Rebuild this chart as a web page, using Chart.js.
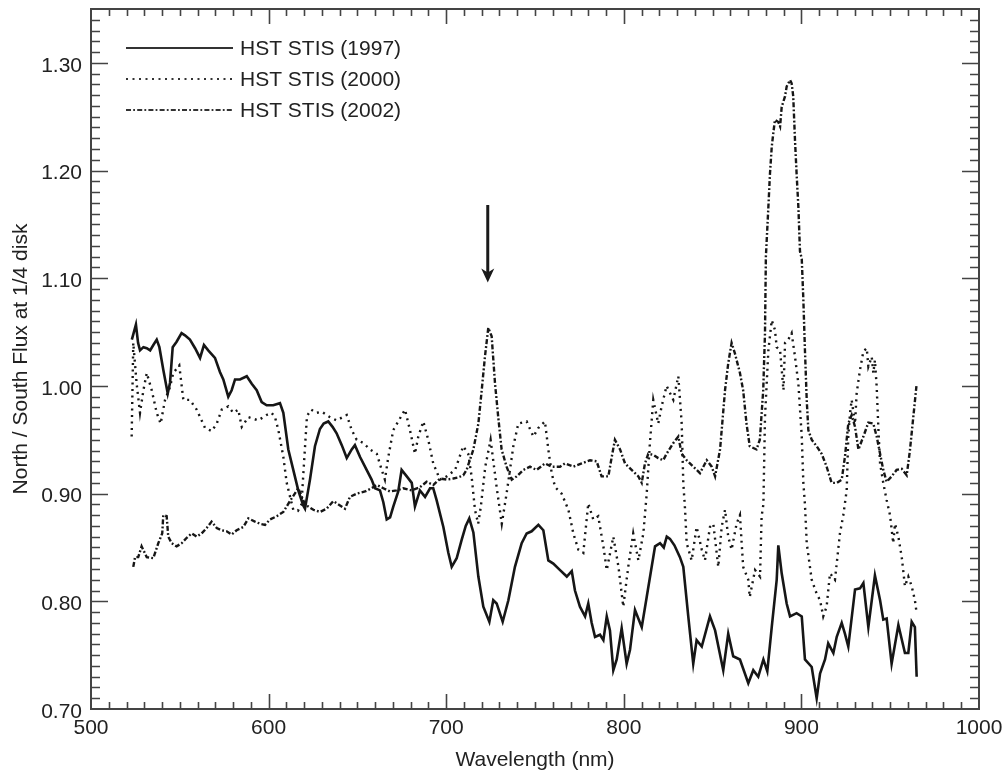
<!DOCTYPE html>
<html>
<head>
<meta charset="utf-8">
<title>North/South flux ratio</title>
<script src="https://cdn.jsdelivr.net/npm/chart.js@4.4.1/dist/chart.umd.min.js"></script>
<style>
  body { margin: 0; background: #fff; }
  #wrap { width: 1003px; height: 772px; }
</style>
</head>
<body>
<div id="wrap"><canvas id="flux" width="1003" height="772"></canvas></div>
<script>
// wavelength (nm) / north-south flux ratio at 1/4 disk, one pair of arrays per epoch
var wl1997 = [523.0, 525.3, 526.5, 527.6, 529.5, 531.4, 533.3, 535.1, 537.0, 538.5, 540.7, 543.2, 544.5, 546.0, 548.2, 551.0, 552.9, 555.7, 558.6, 561.4,
  563.6, 566.0, 569.8, 572.6, 574.5, 577.3, 579.2, 581.1, 583.9, 587.7, 590.5, 593.3, 596.1, 598.9, 602.6, 606.4, 608.3, 611.1, 613.9, 616.7,
  619.5, 620.5, 623.3, 626.1, 628.9, 631.0, 633.6, 636.0, 638.3, 641.2, 644.0, 646.8, 648.6, 651.5, 655.2, 658.0, 659.9, 662.7, 664.6, 666.5,
  668.4, 670.2, 673.0, 674.9, 677.8, 680.6, 682.4, 685.2, 688.1, 690.9, 692.7, 694.6, 698.4, 701.2, 703.1, 705.9, 708.7, 711.0, 713.0, 715.3,
  718.1, 720.9, 724.3, 726.5, 728.4, 731.8, 735.0, 738.7, 742.5, 745.3, 748.1, 751.9, 754.7, 757.5, 760.3, 764.1, 767.9, 770.7, 772.5, 775.3,
  778.2, 780.0, 781.9, 783.8, 786.6, 788.5, 790.4, 792.2, 794.1, 796.0, 798.8, 801.6, 803.5, 806.3, 810.1, 812.9, 817.6, 820.4, 822.5, 824.2,
  826.0, 828.5, 831.6, 833.5, 836.3, 839.1, 841.0, 843.9, 848.5, 851.4, 856.0, 858.8, 861.6, 865.4, 870.1, 872.9, 875.7, 878.6, 880.8, 883.3,
  886.1, 887.0, 888.9, 891.7, 893.6, 897.3, 900.2, 902.0, 905.8, 908.6, 910.5, 913.3, 915.1, 918.0, 919.9, 922.7, 924.5, 926.4, 930.2, 933.0,
  934.9, 937.7, 941.4, 944.3, 946.1, 948.0, 950.8, 954.6, 958.3, 960.2, 962.1, 963.9, 964.9];
var flux1997 = [1.043, 1.057, 1.040, 1.033, 1.036, 1.035, 1.033, 1.038, 1.043, 1.036, 1.015, 0.993, 1.003, 1.036, 1.041, 1.049, 1.047, 1.043, 1.035, 1.026,
  1.038, 1.033, 1.026, 1.013, 1.006, 0.990, 0.996, 1.006, 1.006, 1.009, 1.002, 0.996, 0.985, 0.982, 0.982, 0.984, 0.975, 0.941, 0.922, 0.903,
  0.889, 0.886, 0.913, 0.944, 0.960, 0.965, 0.967, 0.962, 0.956, 0.945, 0.933, 0.941, 0.945, 0.934, 0.922, 0.913, 0.905, 0.903, 0.892, 0.876,
  0.878, 0.888, 0.902, 0.922, 0.916, 0.910, 0.888, 0.903, 0.897, 0.905, 0.905, 0.894, 0.869, 0.845, 0.832, 0.840, 0.857, 0.870, 0.877, 0.864,
  0.823, 0.795, 0.781, 0.801, 0.798, 0.781, 0.801, 0.832, 0.854, 0.863, 0.865, 0.871, 0.866, 0.838, 0.835, 0.829, 0.823, 0.828, 0.810, 0.795,
  0.786, 0.798, 0.780, 0.767, 0.769, 0.764, 0.786, 0.773, 0.736, 0.746, 0.775, 0.742, 0.755, 0.792, 0.776, 0.804, 0.851, 0.854, 0.850, 0.860,
  0.858, 0.852, 0.841, 0.832, 0.786, 0.742, 0.764, 0.758, 0.786, 0.773, 0.736, 0.770, 0.749, 0.746, 0.724, 0.736, 0.730, 0.746, 0.735, 0.776,
  0.820, 0.852, 0.826, 0.798, 0.786, 0.789, 0.786, 0.746, 0.739, 0.710, 0.733, 0.746, 0.761, 0.752, 0.767, 0.780, 0.770, 0.758, 0.811, 0.812,
  0.817, 0.776, 0.824, 0.801, 0.783, 0.784, 0.742, 0.778, 0.752, 0.752, 0.781, 0.776, 0.730];

var wl2000 = [522.9, 523.8, 525.7, 527.6, 529.5, 531.4, 534.2, 537.0, 539.2, 541.7, 544.5, 546.3, 549.7, 552.0, 555.7, 559.5, 564.2, 568.0, 570.8, 573.6,
  577.3, 580.1, 582.9, 584.9, 588.6, 594.2, 598.9, 601.7, 603.6, 605.5, 608.3, 610.2, 612.1, 613.9, 616.5, 618.5, 620.0, 621.6, 624.0, 627.0,
  630.0, 634.6, 638.3, 644.0, 646.8, 649.6, 653.3, 657.1, 660.9, 663.7, 665.5, 667.4, 670.2, 673.0, 676.8, 679.6, 682.4, 684.3, 687.1, 689.9,
  692.7, 696.5, 700.3, 705.0, 709.6, 712.4, 714.3, 716.2, 718.0, 719.5, 722.0, 725.0, 728.4, 731.3, 734.0, 737.8, 740.6, 745.3, 749.1, 751.9,
  755.6, 757.5, 759.4, 761.3, 765.0, 768.8, 771.6, 774.4, 777.2, 780.0, 782.8, 785.6, 788.5, 790.4, 794.1, 797.0, 799.7, 802.5, 805.3, 808.2,
  811.0, 812.9, 814.7, 816.6, 819.4, 821.3, 824.1, 827.9, 830.7, 832.6, 833.5, 834.5, 835.4, 838.2, 841.0, 843.9, 845.7, 848.5, 850.4, 853.2,
  855.1, 857.0, 858.8, 860.7, 863.5, 865.4, 867.2, 870.1, 870.9, 873.9, 876.7, 877.6, 878.6, 879.5, 881.4, 883.3, 885.1, 886.1, 888.0, 889.9,
  890.8, 892.6, 894.5, 896.4, 898.3, 900.2, 901.1, 902.0, 903.0, 905.8, 908.6, 910.5, 912.3, 914.2, 916.1, 918.9, 921.7, 923.6, 925.5, 926.4,
  927.4, 928.3, 930.2, 931.1, 933.0, 934.9, 936.8, 937.7, 939.6, 940.5, 941.4, 942.4, 943.3, 944.3, 946.1, 948.0, 949.9, 951.7, 952.7, 954.6,
  956.5, 958.3, 960.2, 962.1, 963.9, 964.9];
var flux2000 = [0.953, 1.040, 1.002, 0.975, 0.996, 1.012, 0.996, 0.975, 0.965, 0.987, 0.999, 1.012, 1.019, 0.987, 0.987, 0.978, 0.961, 0.958, 0.965, 0.978,
  0.981, 0.975, 0.978, 0.962, 0.971, 0.968, 0.973, 0.975, 0.971, 0.959, 0.934, 0.910, 0.897, 0.885, 0.884, 0.890, 0.930, 0.972, 0.978, 0.975,
  0.976, 0.971, 0.968, 0.973, 0.959, 0.950, 0.947, 0.941, 0.937, 0.922, 0.913, 0.934, 0.959, 0.967, 0.978, 0.959, 0.937, 0.953, 0.967, 0.950,
  0.928, 0.913, 0.916, 0.922, 0.944, 0.937, 0.916, 0.885, 0.872, 0.888, 0.925, 0.950, 0.906, 0.872, 0.900, 0.944, 0.965, 0.967, 0.953, 0.961,
  0.967, 0.941, 0.919, 0.906, 0.900, 0.885, 0.863, 0.848, 0.845, 0.891, 0.876, 0.879, 0.851, 0.829, 0.860, 0.832, 0.795, 0.832, 0.863, 0.838,
  0.863, 0.900, 0.947, 0.987, 0.965, 0.981, 1.000, 0.987, 1.009, 0.965, 0.910, 0.885, 0.854, 0.838, 0.869, 0.848, 0.838, 0.869, 0.872, 0.832,
  0.869, 0.885, 0.860, 0.848, 0.872, 0.880, 0.832, 0.820, 0.804, 0.829, 0.823, 0.879, 0.890, 0.971, 1.033, 1.061, 1.052, 1.036, 1.033, 0.996,
  1.040, 1.043, 1.049, 1.027, 1.002, 0.953, 0.910, 0.890, 0.854, 0.820, 0.807, 0.801, 0.786, 0.795, 0.826, 0.820, 0.863, 0.880, 0.903, 0.953,
  0.975, 0.987, 0.965, 0.993, 1.015, 1.032, 1.035, 1.018, 1.027, 1.012, 1.024, 0.999, 0.962, 0.928, 0.910, 0.894, 0.880, 0.854, 0.872, 0.860,
  0.841, 0.814, 0.823, 0.814, 0.801, 0.789];

var wl2002 = [523.8, 524.8, 526.6, 528.5, 531.4, 535.1, 537.9, 540.1, 540.7, 542.6, 543.5, 545.4, 548.2, 551.1, 553.9, 556.7, 559.5, 562.3, 565.1, 567.9,
  570.8, 573.6, 576.4, 579.2, 582.0, 585.8, 588.6, 592.3, 595.2, 598.0, 600.8, 604.6, 608.3, 612.0, 616.7, 620.5, 625.2, 628.9, 632.7, 636.4,
  640.2, 643.0, 645.8, 649.6, 654.3, 658.0, 660.9, 664.6, 668.4, 672.1, 675.8, 680.6, 685.2, 689.0, 692.7, 696.5, 700.3, 704.0, 706.8, 709.6,
  711.5, 715.3, 718.1, 720.0, 721.8, 723.7, 725.6, 727.5, 729.3, 731.2, 734.0, 736.9, 739.7, 743.4, 747.2, 750.9, 755.6, 759.4, 764.1, 766.9,
  771.6, 776.3, 781.0, 784.7, 787.5, 791.3, 793.2, 795.0, 797.9, 800.7, 804.4, 808.2, 810.1, 811.9, 813.8, 816.6, 819.4, 822.2, 824.1, 827.9,
  830.7, 832.6, 835.4, 839.1, 842.9, 846.7, 849.5, 851.4, 854.2, 857.0, 858.8, 860.7, 862.6, 865.4, 867.2, 869.1, 870.9, 874.7, 876.6, 878.5,
  879.5, 880.0, 881.4, 882.3, 883.3, 884.2, 885.1, 887.0, 888.0, 888.9, 890.8, 891.7, 893.6, 894.5, 895.4, 896.4, 897.3, 898.3, 899.2, 900.2,
  901.1, 902.0, 903.0, 903.9, 905.8, 908.6, 911.4, 914.2, 917.0, 919.9, 922.7, 924.5, 926.4, 928.3, 930.2, 932.1, 934.9, 937.7, 940.5, 942.4,
  944.3, 946.1, 948.0, 950.8, 953.6, 956.5, 959.3, 961.1, 963.0, 964.9];
var flux2002 = [0.832, 0.841, 0.841, 0.851, 0.841, 0.840, 0.854, 0.863, 0.880, 0.879, 0.860, 0.854, 0.851, 0.854, 0.859, 0.863, 0.860, 0.863, 0.868, 0.874,
  0.868, 0.866, 0.865, 0.862, 0.866, 0.869, 0.877, 0.874, 0.872, 0.871, 0.876, 0.879, 0.883, 0.893, 0.905, 0.890, 0.885, 0.883, 0.886, 0.893,
  0.889, 0.886, 0.897, 0.900, 0.902, 0.905, 0.908, 0.905, 0.902, 0.903, 0.905, 0.903, 0.906, 0.911, 0.908, 0.914, 0.913, 0.914, 0.915, 0.917,
  0.922, 0.941, 0.965, 0.996, 1.027, 1.054, 1.046, 1.002, 0.971, 0.941, 0.925, 0.913, 0.916, 0.922, 0.925, 0.922, 0.928, 0.925, 0.925, 0.928,
  0.925, 0.928, 0.931, 0.930, 0.916, 0.916, 0.934, 0.950, 0.941, 0.928, 0.922, 0.916, 0.910, 0.928, 0.937, 0.936, 0.933, 0.931, 0.937, 0.947,
  0.953, 0.937, 0.931, 0.925, 0.919, 0.931, 0.925, 0.916, 0.941, 0.996, 1.021, 1.040, 1.030, 1.012, 0.996, 0.965, 0.944, 0.941, 0.950, 0.996,
  1.049, 1.120, 1.166, 1.197, 1.222, 1.235, 1.247, 1.245, 1.241, 1.259, 1.269, 1.278, 1.284, 1.281, 1.269, 1.228, 1.197, 1.166, 1.125, 1.118,
  1.080, 1.033, 0.987, 0.959, 0.950, 0.944, 0.937, 0.925, 0.910, 0.910, 0.913, 0.934, 0.965, 0.973, 0.962, 0.941, 0.953, 0.966, 0.965, 0.953,
  0.937, 0.922, 0.911, 0.916, 0.922, 0.923, 0.917, 0.940, 0.971, 1.002];

var seriesNames = ['HST STIS (1997)', 'HST STIS (2000)', 'HST STIS (2002)'];

// axis ticks
var xTicks = [500, 600, 700, 800, 900, 1000];
var yTicks = [0.70, 0.80, 0.90, 1.00, 1.10, 1.20, 1.30];
var xRange = [500, 1000];
var yRange = [0.70, 1.35];

// arrow marking the 2002 feature: wavelength, tail value, tip value
var arrowMark = [723.4, 1.168, 1.096];

var fontFam = '"Liberation Sans", Arial, Helvetica, sans-serif';
var ink = '#222';

function pts(xs, ys) {
  return xs.map(function (x, i) { return { x: x, y: ys[i] }; });
}

// frame with inward ticks on all four sides, the arrow and the legend
var framePlugin = {
  id: 'frame',
  beforeDraw: function (chart) {
    var c = chart.ctx;
    c.save();
    c.fillStyle = '#fff';
    c.fillRect(0, 0, chart.width, chart.height);
    c.restore();
  },
  afterDatasetsDraw: function (chart) {
    var c = chart.ctx, a = chart.chartArea;
    var xs = chart.scales.x, ys = chart.scales.y;
    c.save();
    c.strokeStyle = '#444';
    c.lineWidth = 1.6;
    c.beginPath();
    // x ticks, minor every 10 nm
    for (var k = 51; k < 100; k++) {
      var px = Math.round(xs.getPixelForValue(k * 10)) + 0.5;
      var len = (k % 10 === 0) ? 15 : 7;
      c.moveTo(px, a.bottom); c.lineTo(px, a.bottom - len);
      c.moveTo(px, a.top); c.lineTo(px, a.top + len);
    }
    // y ticks, minor every 0.01
    for (var j = 71; j < 135; j++) {
      var py = Math.round(ys.getPixelForValue(j / 100)) + 0.5;
      var ylen = (j % 10 === 0) ? 17 : 9;
      c.moveTo(a.left, py); c.lineTo(a.left + ylen, py);
      c.moveTo(a.right, py); c.lineTo(a.right - ylen, py);
    }
    c.stroke();
    c.lineWidth = 2;
    c.strokeRect(a.left, a.top, a.right - a.left, a.bottom - a.top);

    // arrow
    var ax = xs.getPixelForValue(arrowMark[0]);
    var aTail = ys.getPixelForValue(arrowMark[1]);
    var aTip = ys.getPixelForValue(arrowMark[2]);
    c.strokeStyle = '#1a1a1a';
    c.fillStyle = '#1a1a1a';
    c.lineWidth = 3;
    c.beginPath();
    c.moveTo(ax, aTail);
    c.lineTo(ax, aTip - 8);
    c.stroke();
    c.beginPath();
    c.moveTo(ax, aTip);
    c.lineTo(ax - 6.5, aTip - 14);
    c.lineTo(ax, aTip - 10);
    c.lineTo(ax + 6.5, aTip - 14);
    c.closePath();
    c.fill();

    // legend
    c.font = '21px ' + fontFam;
    c.textBaseline = 'middle';
    c.textAlign = 'left';
    chart.data.datasets.forEach(function (ds, i) {
      var ly = a.top + 39 + i * 31;
      c.strokeStyle = '#333';
      c.lineWidth = 2;
      c.setLineDash(ds.borderDash || []);
      c.beginPath();
      c.moveTo(a.left + 35, ly);
      c.lineTo(a.left + 142, ly);
      c.stroke();
      c.setLineDash([]);
      c.fillStyle = ink;
      c.fillText(ds.label, a.left + 149, ly + 1);
    });
    c.restore();
  }
};

var ctx = document.getElementById('flux').getContext('2d');
new Chart(ctx, {
  type: 'line',
  data: {
    datasets: [
      { label: seriesNames[0], data: pts(wl1997, flux1997), borderColor: '#161616', borderWidth: 2.6,
        borderDash: [], pointRadius: 0, tension: 0, fill: false },
      { label: seriesNames[1], data: pts(wl2000, flux2000), borderColor: '#161616', borderWidth: 2.4,
        borderDash: [2, 4.5], pointRadius: 0, tension: 0, fill: false },
      { label: seriesNames[2], data: pts(wl2002, flux2002), borderColor: '#161616', borderWidth: 2.4,
        borderDash: [5, 2.2, 1.8, 2.2], pointRadius: 0, tension: 0, fill: false }
    ]
  },
  options: {
    responsive: false,
    animation: false,
    devicePixelRatio: 1,
    layout: { padding: { top: 9, right: 24, bottom: 0, left: 0 } },
    plugins: { legend: { display: false }, tooltip: { enabled: false } },
    scales: {
      x: {
        type: 'linear', min: xRange[0], max: xRange[1],
        grid: { display: false, drawTicks: false },
        border: { display: false },
        afterBuildTicks: function (s) { s.ticks = xTicks.map(function (v) { return { value: v }; }); },
        afterFit: function (s) { s.height = 63; s.paddingLeft = 0; s.paddingRight = 0; },
        ticks: { padding: 7, color: ink, font: { family: fontFam, size: 21 },
          callback: function (v) { return String(v); } },
        title: { display: true, text: 'Wavelength (nm)', color: ink,
          font: { family: fontFam, size: 21, lineHeight: 1 }, padding: { top: 0, bottom: 1 } }
      },
      y: {
        type: 'linear', min: yRange[0], max: yRange[1],
        grid: { display: false, drawTicks: false },
        border: { display: false },
        afterBuildTicks: function (s) { s.ticks = yTicks.map(function (v) { return { value: v }; }); },
        afterFit: function (s) { s.width = 91; s.paddingTop = 0; s.paddingBottom = 0; },
        ticks: { padding: 9, labelOffset: 3, color: ink, font: { family: fontFam, size: 21 },
          callback: function (v) { return v.toFixed(2); } },
        title: { display: true, text: 'North / South Flux at 1/4 disk', color: ink,
          font: { family: fontFam, size: 21, lineHeight: 1 }, padding: { top: 11, bottom: 0 } }
      }
    }
  },
  plugins: [framePlugin]
});
</script>
</body>
</html>
